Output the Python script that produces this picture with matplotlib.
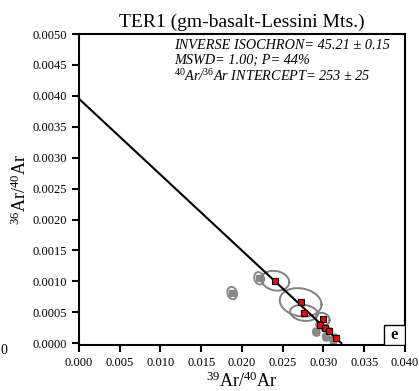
import matplotlib
matplotlib.use("Agg")
import matplotlib.pyplot as plt
from matplotlib.patches import Rectangle
import numpy as np

plt.rcParams['font.family'] = ['Liberation Serif', 'DejaVu Serif']
plt.rcParams['mathtext.fontset'] = 'custom'
plt.rcParams['mathtext.rm'] = 'Liberation Serif'
plt.rcParams['mathtext.it'] = 'Liberation Serif:italic'

# accepted steps (red squares) with error ellipse half-axes
x_in = [0.0241, 0.0272, 0.0276, 0.0299, 0.0296, 0.0302, 0.0307, 0.0315]
y_in = [0.00101, 0.00066, 0.00049, 0.00039, 0.00029, 0.00024, 0.00020, 0.00009]
sx_in = [0.0017, 0.00256, 0.0017, 0.00085, 0.0005, 0.0005, 0.00037, 0.00037]
sy_in = [0.00016, 0.00023, 0.00013, 0.00010, 0.00005, 0.00005, 0.00005, 0.00005]

# excluded steps (grey)
x_out = [0.0188, 0.0221, 0.0291, 0.0303, 0.0312]
y_out = [0.00081, 0.00105, 0.00018, 0.00010, 0.00005]
sx_out = [0.0006, 0.0006, 0.0004, 0.0004, 0.0004]
sy_out = [0.0001, 0.0001, 0.00006, 0.00006, 0.00006]

# isochron
y_intercept = 1.0 / 253.0
x_intercept = 0.0322

title = "TER1 (gm-basalt-Lessini Mts.)"
notes = ["INVERSE ISOCHRON= 45.21 \u00b1 0.15",
         "MSWD= 1.00; P= 44%",
         "$^{40}$Ar/$^{36}$Ar INTERCEPT= 253 \u00b1 25"]


def ellipse(ax, x0, y0, sx, sy, rho=-0.15, **kw):
    t = np.linspace(0, 2 * np.pi, 100)
    ex = x0 + sx * np.cos(t)
    ey = y0 + sy * (rho * np.cos(t) + np.sqrt(1 - rho ** 2) * np.sin(t))
    ax.plot(ex, ey, **kw)


fig = plt.figure(figsize=(4.19, 3.91), dpi=100)
ax = fig.add_axes([0.1885, 0.1176, 0.778, 0.7954])

ax.plot([0, x_intercept], [y_intercept, 0], color='black', lw=1.5, zorder=3)

for x0, y0, sx, sy in zip(x_out, y_out, sx_out, sy_out):
    ellipse(ax, x0, y0, sx, sy, color='#8a8a8a', lw=1.4, zorder=2)
ax.plot(x_out, y_out, 's', color='#8a8a8a', ms=4, zorder=2)

for x0, y0, sx, sy in zip(x_in, y_in, sx_in, sy_in):
    ellipse(ax, x0, y0, sx, sy, color='#808080', lw=1.4, zorder=2)
ax.plot(x_in, y_in, 's', mfc='red', mec='black', mew=0.8, ms=5, zorder=4)

ax.set_xlim(0, 0.040)
ax.set_ylim(-0.00003, 0.0050)
ax.set_xticks(np.arange(0, 0.0401, 0.005))
ax.set_yticks(np.arange(0, 0.00501, 0.0005))
ax.xaxis.set_major_formatter(matplotlib.ticker.FormatStrFormatter('%.3f'))
ax.yaxis.set_major_formatter(matplotlib.ticker.FormatStrFormatter('%.4f'))
ax.tick_params(direction='out', length=5, width=1.5, labelsize=9)
for sp in ax.spines.values():
    sp.set_linewidth(1.5)

ax.set_title(title, fontsize=14, pad=5)
ax.set_xlabel("$^{39}$Ar/$^{40}$Ar", fontsize=13)
ax.set_ylabel("$^{36}$Ar/$^{40}$Ar", fontsize=13)
ax.xaxis.set_label_coords(0.5, -0.085)
ax.yaxis.set_label_coords(-0.15, 0.5)

for i, line in enumerate(notes):
    ax.text(0.292, 0.985 - i * 0.048, line, transform=ax.transAxes,
            fontsize=10.3, style='italic', va='top')

ax.add_patch(Rectangle((0.935, 0.0), 0.065, 0.064, transform=ax.transAxes,
                       fc='white', ec='black', lw=1, zorder=5))
ax.text(0.9675, 0.032, 'e', transform=ax.transAxes, ha='center', va='center',
        fontsize=12, fontweight='bold', zorder=6)

fig.text(0.002, 1 - 350 / 391, '0', fontsize=10, va='center')

fig.savefig('out.png', dpi=100)
